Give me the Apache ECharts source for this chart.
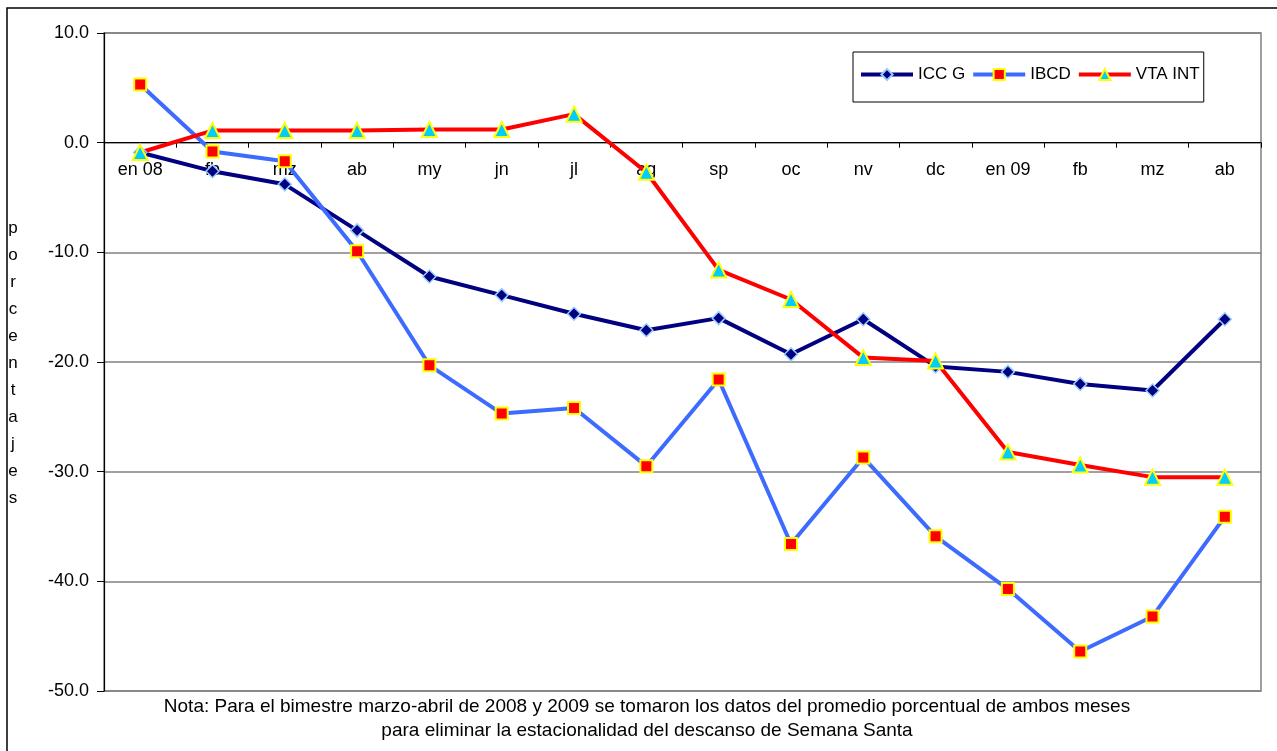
<!DOCTYPE html>
<html>
<head>
<meta charset="utf-8">
<script src="https://cdn.jsdelivr.net/npm/echarts@6/dist/echarts.min.js"></script>
<style>
  html, body { margin: 0; padding: 0; background: #fff; }
  #chart { width: 1277px; height: 751px; }
</style>
</head>
<body>
<div id="chart"></div>
<script>
const months = ['en 08', 'fb', 'mz', 'ab', 'my', 'jn', 'jl', 'ag', 'sp', 'oc', 'nv', 'dc', 'en 09', 'fb', 'mz', 'ab']
const iccG = [-0.9, -2.6, -3.8, -8.0, -12.2, -13.9, -15.6, -17.1, -16.0, -19.3, -16.1, -20.4, -20.9, -22.0, -22.6, -16.1]
const ibcd = [5.3, -0.8, -1.7, -9.9, -20.3, -24.7, -24.2, -29.5, -21.6, -36.6, -28.7, -35.9, -40.7, -46.4, -43.2, -34.1]
const vtaInt = [-0.9, 1.1, 1.1, 1.1, 1.2, 1.2, 2.6, -2.7, -11.6, -14.3, -19.6, -19.9, -28.2, -29.4, -30.5, -30.5]
const yTicks = [10, 0, -10, -20, -30, -40, -50]

const font = 'Liberation Sans, Arial, sans-serif'
const chart = echarts.init(document.getElementById('chart'))

// plot box: top 33, bottom 691 -> the zero line sits 548 px above the bottom
const plotTop = 33, plotBottom = 691
const zeroOffset = (plotBottom - plotTop) * (0 - yTicks[yTicks.length - 1]) / (yTicks[0] - yTicks[yTicks.length - 1])

const option = {
  animation: false,
  textStyle: { fontFamily: font },
  grid: {
    left: 104, top: plotTop, right: 16, bottom: 751 - plotBottom,
    show: true, borderColor: '#808080', borderWidth: 1.5
  },
  legend: {
    left: 853, top: 52,
    width: 351,
    padding: [14, 4, 19, 6],
    borderColor: '#000', borderWidth: 1,
    itemWidth: 52, itemHeight: 14, itemGap: 6,
    lineStyle: { width: 4 },
    textStyle: { fontSize: 17, color: '#000', fontFamily: font },
    data: ['ICC G', 'IBCD', 'VTA INT']
  },
  xAxis: {
    type: 'category',
    data: months,
    boundaryGap: true,
    position: 'bottom',
    axisLine: { onZero: false, lineStyle: { color: '#000', width: 1.2 } },
    offset: -zeroOffset,
    axisTick: { show: true, length: 5, lineStyle: { color: '#000' } },
    axisLabel: { margin: 18, fontSize: 18, color: '#000', interval: 0 }
  },
  yAxis: {
    type: 'value',
    min: yTicks[yTicks.length - 1], max: yTicks[0], interval: 10,
    axisLine: { show: true, lineStyle: { color: '#000', width: 1.2 } },
    axisTick: { show: true, length: 7, lineStyle: { color: '#000' } },
    axisLabel: { fontSize: 18, color: '#000', margin: 15, formatter: v => v.toFixed(1) },
    splitLine: { lineStyle: { color: '#808080', width: 1.5 } }
  },
  graphic: [
    { type: 'rect', shape: { x: 7, y: 8, width: 1300, height: 800 }, style: { fill: 'none', stroke: '#000', lineWidth: 1.5 }, silent: true },
    {
      type: 'text', x: 13, y: 215,
      style: { text: 'porcentajes'.split('').join('\n'), fontSize: 17, lineHeight: 27, fill: '#000', fontFamily: font, align: 'center', verticalAlign: 'top' }
    },
    {
      type: 'text', x: 647, y: 695,
      style: {
        text: 'Nota: Para el bimestre marzo-abril de 2008 y 2009 se tomaron los datos del promedio porcentual de ambos meses\npara eliminar la estacionalidad del descanso de Semana Santa',
        fontSize: 19, lineHeight: 24, fill: '#000', fontFamily: font, align: 'center', verticalAlign: 'top'
      }
    }
  ],
  series: [
    {
      name: 'ICC G', type: 'line', data: iccG,
      lineStyle: { color: '#000080', width: 4 },
      itemStyle: { color: '#000080', borderColor: '#99ccff', borderWidth: 1.5 },
      symbol: 'diamond', symbolSize: 13
    },
    {
      name: 'IBCD', type: 'line', data: ibcd,
      lineStyle: { color: '#3d6bff', width: 4 },
      itemStyle: { color: '#ff0000', borderColor: '#ffff00', borderWidth: 2 },
      symbol: 'rect', symbolSize: 12
    },
    {
      name: 'VTA INT', type: 'line', data: vtaInt,
      lineStyle: { color: '#ff0000', width: 4 },
      itemStyle: { color: '#00ccff', borderColor: '#ffff00', borderWidth: 2 },
      symbol: 'triangle', symbolSize: 15
    }
  ]
}

chart.setOption(option)
</script>
</body>
</html>
